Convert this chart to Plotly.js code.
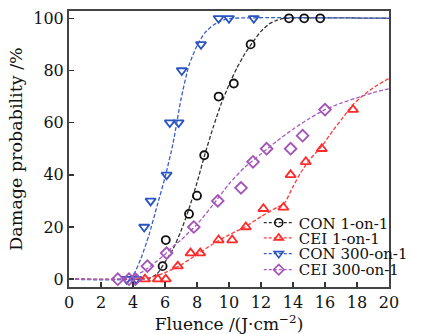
<!DOCTYPE html>
<html>
<head>
<meta charset="utf-8">
<script src="https://cdn.plot.ly/plotly-3.0.1.min.js"></script>
<style>html,body{margin:0;padding:0;background:#fff;}#chart{width:424px;height:334px;}</style>
</head>
<body>
<div id="chart"></div>
<script>
// Measured data points
const conX = [5.85, 6.05, 7.5, 8.0, 8.45, 9.35, 10.3, 11.35, 13.75, 14.7, 15.7];
const conY = [5, 15, 25, 32, 47.5, 70, 75, 90, 100, 100, 100];
const ceiX = [4.75, 5.55, 6.05, 6.8, 7.6, 8.2, 9.35, 10.2, 11.05, 12.15, 13.4, 13.85, 14.8, 15.8, 17.75];
const ceiY = [0, 0, 0, 5, 10, 10, 15, 15, 20, 27, 27.5, 40, 45, 50, 65];
const con300X = [3.6, 4.2, 4.7, 5.1, 6.1, 6.3, 6.85, 7.05, 8.25, 9.35, 10.0, 11.55];
const con300Y = [0, 0, 20, 30, 40, 60, 60, 80, 90, 100, 100, 100];
const cei300X = [3.05, 3.75, 4.15, 4.9, 6.1, 7.8, 9.3, 10.75, 11.5, 12.35, 13.85, 14.6, 16.0];
const cei300Y = [0, 0, 0, 5, 10, 20, 30, 35, 45, 50, 50, 55, 65];

// Fitted curves
const conFitX = [0, 4.5, 5, 5.5, 6, 6.5, 7, 7.5, 8, 8.5, 9, 9.5, 10, 10.5, 11, 11.5, 12, 12.5, 13, 13.5, 20];
const conFitY = [0, 0, 0.3, 2, 6.5, 11.5, 18.5, 27, 37, 48, 58, 67, 74.5, 81, 86.5, 91, 95, 97.8, 99.3, 100, 100];
const ceiFitX = [0, 4, 5, 6, 7, 8, 9, 10, 11, 12, 13, 13.45, 14, 14.5, 15, 15.8, 16.5, 17, 17.76, 18.3, 19, 20];
const ceiFitY = [0, 0, 0.5, 2.5, 5.5, 9.5, 13.5, 17, 20, 24, 27.5, 29, 35.5, 41, 45.5, 51, 57, 61, 67, 70, 73.3, 77];
const con300FitX = [0, 3.5, 4, 4.5, 5, 5.5, 6, 6.5, 7, 7.5, 8, 8.5, 9, 9.5, 10, 20];
const con300FitY = [0, 0, 1.5, 8, 17, 28, 39, 52, 69, 82, 89.5, 94.5, 97.3, 99, 99.9, 100];
const cei300FitX = [0, 3, 3.5, 4, 4.5, 5, 5.5, 6, 6.5, 7, 7.5, 8, 9, 10, 11, 12, 13, 14, 15, 16, 17, 18, 19, 20];
const cei300FitY = [0, 0, 0.3, 1, 2.5, 4.5, 7, 9.5, 12.5, 15, 18, 21, 28.5, 36.5, 43, 48, 53, 57.5, 61.5, 65, 67.5, 69.5, 71.5, 73];

const names = ['CON 1-on-1', 'CEI 1-on-1', 'CON 300-on-1', 'CEI 300-on-1'];
const colors = ['#111111', '#ff2b2b', '#2a55c0', '#a452b8'];
const lineColors = ['#333333', '#ff3a3a', '#3a5fcc', '#a65cbf'];
const symbols = ['circle-open', 'triangle-up-open', 'triangle-down-open', 'diamond-open'];
const sizes = [8, 9, 9, 9];
const legendIds = ['legend', 'legend2', 'legend3', 'legend4'];

const pts = [[conX, conY], [ceiX, ceiY], [con300X, con300Y], [cei300X, cei300Y]];
const fits = [[conFitX, conFitY], [ceiFitX, ceiFitY], [con300FitX, con300FitY], [cei300FitX, cei300FitY]];
const dash = '4px,2px';

const traces = [];
// curves (order: black, red, blue, purple)
fits.forEach((f, i) => {
  traces.push({x: f[0], y: f[1], mode: 'lines', showlegend: false, hoverinfo: 'skip',
    line: {color: lineColors[i], width: 1.3, dash: dash, shape: 'spline', smoothing: 0.6}});
});
pts.forEach((p, i) => {
  traces.push({x: p[0], y: p[1], mode: 'markers', showlegend: false, cliponaxis: false,
    marker: {symbol: symbols[i], size: sizes[i], color: colors[i], line: {width: 1.8, color: colors[i]}}});
});
// legend entries, one legend each so that rows sit tight
names.forEach((n, i) => {
  traces.push({x: [null], y: [null], mode: 'lines+markers', name: n, legend: legendIds[i],
    line: {color: lineColors[i], width: 1.3, dash: '3px,2px'},
    marker: {symbol: symbols[i], size: 8, color: colors[i], line: {width: 1.6, color: colors[i]}}});
});

const axisCommon = {
  showline: true, linecolor: '#444', linewidth: 2, mirror: true,
  ticks: 'inside', ticklen: 5, tickwidth: 1.5, tickcolor: '#333',
  showgrid: false, zeroline: false,
  tickfont: {family: 'DejaVu Serif', size: 16, color: '#111'}
};

const legendRowsY = [0.232, 0.177, 0.120, 0.062];
const layout = {
  width: 424, height: 334,
  margin: {l: 69, r: 11, t: 11, b: 47},
  paper_bgcolor: '#fff', plot_bgcolor: '#fff',
  font: {family: 'DejaVu Serif', color: '#111'},
  xaxis: Object.assign({}, axisCommon, {
    range: [0, 20], tick0: 0, dtick: 2,
    title: {text: 'Fluence /(J·cm<sup>−2</sup>)', font: {family: 'DejaVu Serif', size: 17, color: '#111'}, standoff: 2}
  }),
  yaxis: Object.assign({}, axisCommon, {
    range: [-3, 102.8], tick0: 0, dtick: 20,
    title: {text: 'Damage probability /%', font: {family: 'DejaVu Serif', size: 17.5, color: '#111'}, standoff: 6}
  })
};
legendIds.forEach((id, i) => {
  layout[id] = {x: 0.593, y: legendRowsY[i], xanchor: 'left', yanchor: 'middle', bgcolor: 'rgba(0,0,0,0)',
    font: {family: 'DejaVu Serif', size: 15, color: '#111'}, itemwidth: 30, borderwidth: 0};
});

Plotly.newPlot('chart', traces, layout, {displayModeBar: false, staticPlot: true});
</script>
</body>
</html>
